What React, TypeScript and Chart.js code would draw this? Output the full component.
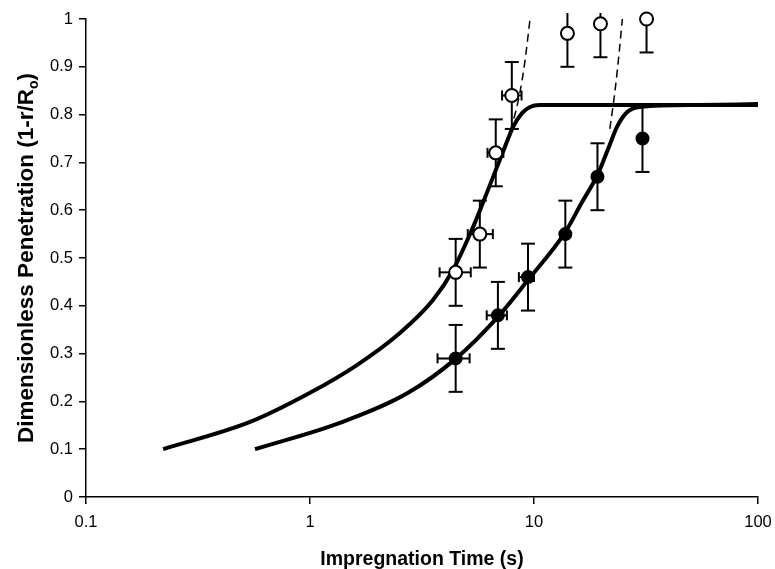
import React, { useEffect, useRef } from 'react';
import { Chart, registerables } from 'chart.js';

Chart.register(...registerables);

// ---- Axis ticks ----
const xTickValues = [0.1, 1, 10, 100];
const yTickValues = [0, 0.1, 0.2, 0.3, 0.4, 0.5, 0.6, 0.7, 0.8, 0.9, 1];
const xTitle = 'Impregnation Time (s)';
const yTitleMain = 'Dimensionless Penetration (1-r/R';
const yTitleSub = 'o';
const yTitleEnd = ')';

// ---- Open circles (measured) ----
const openTime = [4.47, 5.73, 6.75, 7.96, 14.1, 19.8, 31.8];
const openPen = [0.47, 0.55, 0.72, 0.84, 0.97, 0.99, 1.0];
const openPenLow = [0.4, 0.48, 0.65, 0.77, 0.9, 0.92, 0.93];
const openPenHigh = [0.54, 0.62, 0.79, 0.91, 1.04, 1.06, 1.07];
const openTimeLow = [3.79, 5.06, 6.2, 7.2, null, null, null];
const openTimeHigh = [5.22, 6.55, 7.3, 8.8, null, null, null];

// ---- Filled circles (measured) ----
const filledTime = [4.47, 6.9, 9.4, 13.8, 19.2, 30.5];
const filledPen = [0.29, 0.38, 0.46, 0.55, 0.67, 0.75];
const filledPenLow = [0.22, 0.31, 0.39, 0.48, 0.6, 0.68];
const filledPenHigh = [0.36, 0.45, 0.53, 0.62, 0.74, 0.82];
const filledTimeLow = [3.71, 6.15, 8.56, null, null, null];
const filledTimeHigh = [5.16, 7.57, 10.0, null, null, null];

// ---- Model curves ----
const fastCurveTime = [0.221, 0.54, 1.0, 1.62, 2.52, 3.54, 4.35, 5.28, 6.36, 7.27, 8.06, 8.84, 9.6, 10.6, 100];
const fastCurvePen = [0.1, 0.157, 0.218, 0.276, 0.343, 0.412, 0.475, 0.559, 0.653, 0.722, 0.774, 0.803, 0.816, 0.82, 0.82];

const slowCurveTime = [0.568, 1.36, 2.74, 4.49, 6.9, 9.4, 13.7, 16.3, 19.2, 21.5, 23.5, 26.0, 29.7, 55, 100];
const slowCurvePen = [0.1, 0.155, 0.218, 0.29, 0.377, 0.454, 0.552, 0.615, 0.674, 0.73, 0.775, 0.805, 0.816, 0.82, 0.822];

const fastDashTime = [7.5, 8.0, 8.6, 9.1, 9.6];
const fastDashPen = [0.74, 0.78, 0.84, 0.91, 1.0];
const slowDashTime = [21.8, 23.0, 24.0, 24.8];
const slowDashPen = [0.77, 0.85, 0.93, 1.0];

const toXY = (xs: number[], ys: number[]) => xs.map((x, i) => ({ x, y: ys[i] }));

const FONT = '"Liberation Sans", Arial, Helvetica, sans-serif';

const errorBarPlugin = {
  id: 'errorBars',
  beforeDatasetsDraw(chart: any) {
    const { ctx, chartArea } = chart;
    const xs = chart.scales.x;
    const ys = chart.scales.y;
    ctx.save();
    ctx.beginPath();
    ctx.rect(chartArea.left, chartArea.top - 6, chartArea.right - chartArea.left, chartArea.bottom - chartArea.top + 6);
    ctx.clip();
    ctx.strokeStyle = '#000';
    ctx.lineWidth = 2;
    const seg = (x1: number, y1: number, x2: number, y2: number) => {
      ctx.beginPath();
      ctx.moveTo(x1, y1);
      ctx.lineTo(x2, y2);
      ctx.stroke();
    };
    const drawSet = (
      ts: number[], ps: number[], pl: number[], ph: number[],
      tl: (number | null)[], th: (number | null)[]
    ) => {
      ts.forEach((t, i) => {
        const px = xs.getPixelForValue(t);
        const py = ys.getPixelForValue(ps[i]);
        const yl = ys.getPixelForValue(pl[i]);
        const yh = ys.getPixelForValue(ph[i]);
        seg(px, yl, px, yh);
        seg(px - 7, yl, px + 7, yl);
        seg(px - 7, yh, px + 7, yh);
        const a = tl[i];
        const b = th[i];
        if (a != null && b != null) {
          const xl = xs.getPixelForValue(a);
          const xh = xs.getPixelForValue(b);
          seg(xl, py, xh, py);
          seg(xl, py - 5, xl, py + 5);
          seg(xh, py - 5, xh, py + 5);
        }
      });
    };
    drawSet(openTime, openPen, openPenLow, openPenHigh, openTimeLow, openTimeHigh);
    drawSet(filledTime, filledPen, filledPenLow, filledPenHigh, filledTimeLow, filledTimeHigh);
    ctx.restore();
  },
};

const titlePlugin = {
  id: 'axisTitles',
  afterDraw(chart: any) {
    const { ctx, chartArea } = chart;
    ctx.save();
    ctx.fillStyle = '#000';
    ctx.font = `bold 19.5px ${FONT}`;
    ctx.textAlign = 'center';
    ctx.textBaseline = 'alphabetic';
    ctx.fillText(xTitle, (chartArea.left + chartArea.right) / 2, 565);

    ctx.translate(25, (chartArea.top + chartArea.bottom) / 2);
    ctx.rotate(-Math.PI / 2);
    ctx.textAlign = 'left';
    const mainFont = `bold 22.5px ${FONT}`;
    const subFont = `bold 14px ${FONT}`;
    ctx.font = mainFont;
    const wMain = ctx.measureText(yTitleMain).width;
    const wEnd = ctx.measureText(yTitleEnd).width;
    ctx.font = subFont;
    const wSub = ctx.measureText(yTitleSub).width;
    let x = -(wMain + wSub + wEnd) / 2;
    const base = 8;
    ctx.font = mainFont;
    ctx.fillText(yTitleMain, x, base);
    x += wMain;
    ctx.font = subFont;
    ctx.fillText(yTitleSub, x, base + 5);
    x += wSub;
    ctx.font = mainFont;
    ctx.fillText(yTitleEnd, x, base);
    ctx.restore();
  },
};

export default function App() {
  const canvasRef = useRef<HTMLCanvasElement | null>(null);

  useEffect(() => {
    if (!canvasRef.current) return;
    const curveStyle = {
      showLine: true,
      pointRadius: 0,
      borderColor: '#000',
      borderWidth: 4,
      cubicInterpolationMode: 'monotone' as const,
      clip: false as const,
    };
    const chart = new Chart(canvasRef.current, {
      type: 'scatter',
      data: {
        datasets: [
          {
            label: 'open',
            data: toXY(openTime, openPen),
            pointRadius: 6.5,
            pointBackgroundColor: '#fff',
            pointBorderColor: '#000',
            pointBorderWidth: 2,
            order: 0,
            clip: false,
          },
          {
            label: 'filled',
            data: toXY(filledTime, filledPen),
            pointRadius: 6,
            pointBackgroundColor: '#000',
            pointBorderColor: '#000',
            pointBorderWidth: 2,
            order: 0,
            clip: false,
          },
          { label: 'fast model', data: toXY(fastCurveTime, fastCurvePen), ...curveStyle, order: 2 },
          { label: 'slow model', data: toXY(slowCurveTime, slowCurvePen), ...curveStyle, order: 2 },
          {
            label: 'fast dashed',
            data: toXY(fastDashTime, fastDashPen),
            ...curveStyle,
            borderWidth: 1.5,
            borderDash: [8, 5],
            order: 1,
          },
          {
            label: 'slow dashed',
            data: toXY(slowDashTime, slowDashPen),
            ...curveStyle,
            borderWidth: 1.5,
            borderDash: [8, 5],
            order: 1,
          },
        ],
      },
      options: {
        animation: false,
        responsive: true,
        maintainAspectRatio: false,
        layout: { padding: { left: 0, right: 17, top: 19, bottom: 0 } },
        plugins: {
          legend: { display: false },
          tooltip: { enabled: false },
          title: { display: false },
        },
        scales: {
          x: {
            type: 'logarithmic',
            min: 0.1,
            max: 100,
            afterBuildTicks: (scale: any) => {
              scale.ticks = xTickValues.map((v) => ({ value: v }));
            },
            afterFit: (scale: any) => {
              scale.height = 72;
              scale.paddingLeft = 0;
              scale.paddingRight = 0;
            },
            ticks: {
              autoSkip: false,
              maxRotation: 0,
              padding: 9,
              color: '#000',
              font: { family: FONT, size: 16.5 },
              callback: (v: any) => String(v),
            },
            grid: {
              display: true,
              drawOnChartArea: false,
              drawTicks: true,
              tickLength: 7,
              color: '#000',
              lineWidth: 1.5,
            },
            border: { display: true, color: '#000', width: 1.5 },
          },
          y: {
            type: 'linear',
            min: 0,
            max: 1,
            afterBuildTicks: (scale: any) => {
              scale.ticks = yTickValues.map((v) => ({ value: v }));
            },
            afterFit: (scale: any) => {
              scale.width = 86;
              scale.paddingTop = 0;
              scale.paddingBottom = 0;
            },
            ticks: {
              autoSkip: false,
              padding: 6,
              color: '#000',
              font: { family: FONT, size: 16.5 },
              callback: (v: any) => String(Number(Number(v).toFixed(1))),
            },
            grid: {
              display: true,
              drawOnChartArea: false,
              drawTicks: true,
              tickLength: 7,
              color: '#000',
              lineWidth: 1.5,
            },
            border: { display: true, color: '#000', width: 1.5 },
          },
        },
      },
      plugins: [errorBarPlugin, titlePlugin],
    });
    return () => chart.destroy();
  }, []);

  return (
    <div style={{ position: 'absolute', left: 0, top: 0, width: 775, height: 569, background: '#fff' }}>
      <canvas ref={canvasRef} />
    </div>
  );
}
